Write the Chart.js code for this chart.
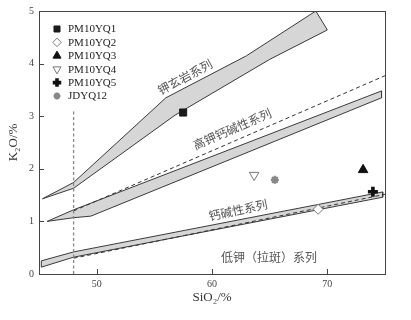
<!DOCTYPE html>
<html><head><meta charset="utf-8">
<script src="https://cdn.jsdelivr.net/npm/chart.js@4/dist/chart.umd.min.js"></script>
<style>html,body{margin:0;padding:0;background:#fff}</style>
</head><body>
<canvas id="c" width="411" height="320" style="width:411px;height:320px;display:block"></canvas>
<script>
// ---- data ----
const xTicks = [50, 60, 70];
const yTicks = [0, 1, 2, 3, 4, 5];
const sampleNames = ['PM10YQ1', 'PM10YQ2', 'PM10YQ3', 'PM10YQ4', 'PM10YQ5', 'JDYQ12'];
const sampleSiO2 = [57.5, 69.2, 73.1, 63.65, 73.95, 65.45];
const sampleK2O = [3.07, 1.23, 1.98, 1.88, 1.565, 1.79];

// boundary bands (closed outlines: upper edge left->right, then lower edge right->left)
const shoBandSiO2 = [45.3, 48, 56, 63, 69, 70, 65, 56.8, 48, 45.3];
const shoBandK2O  = [1.43, 1.74, 3.35, 4.15, 5.0, 4.64, 4.08, 3.02, 1.63, 1.43];
const hkBandSiO2  = [45.7, 48, 74.7, 74.7, 49.5, 48, 45.7];
const hkBandK2O   = [1.0, 1.22, 3.48, 3.35, 1.10, 1.07, 1.0];
const lkBandSiO2  = [45.2, 48, 74.8, 74.8, 48, 45.2, 45.2];
const lkBandK2O   = [0.25, 0.42, 1.56, 1.46, 0.32, 0.13, 0.25];

// dashed reference lines
const hkDashSiO2 = [48, 75];
const hkDashK2O  = [1.2, 3.77];
const lkDashSiO2 = [48, 75];
const lkDashK2O  = [0.3, 1.515];
const vDashSiO2  = [48, 48];
const vDashK2O   = [0, 3.1];

const seriesNames = ['钾玄岩系列', '高钾钙碱性系列', '钙碱性系列', '低钾（拉斑）系列'];

// ---- layout / style (not data) ----
const seriesPlacement = [
  {x: 57.66, y: 3.745, a: -28.5},
  {x: 61.74, y: 2.757, a: -23.6},
  {x: 62.26, y: 1.217, a: -12},
  {x: 64.95, y: 0.323, a: 0}
];
const markerStyles = [
  {pointStyle: 'rect', radius: 5, bg: '#1a1a1a', border: '#1a1a1a', bw: 1, rot: 0},
  {pointStyle: 'rectRot', radius: 5, bg: '#ffffff', border: '#777', bw: 1, rot: 0},
  {pointStyle: 'triangle', radius: 5.5, bg: '#111', border: '#111', bw: 1, rot: 0},
  {pointStyle: 'triangle', radius: 5.5, bg: '#ffffff', border: '#777', bw: 1, rot: 180},
  {pointStyle: 'cross', radius: 5, bg: '#111', border: '#111', bw: 3.6, rot: 0},
  {pointStyle: 'star', radius: 4, bg: '#888', border: '#888', bw: 2.2, rot: 0}
];

const zip = (xs, ys) => xs.map((x, i) => ({x: x, y: ys[i]}));

const datasets = [];
sampleNames.forEach((n, i) => {
  const s = markerStyles[i];
  datasets.push({
    label: n, data: [{x: sampleSiO2[i], y: sampleK2O[i]}],
    pointStyle: s.pointStyle, pointRadius: s.radius, pointRotation: s.rot,
    backgroundColor: s.bg, borderColor: s.border, pointBorderWidth: s.bw,
    showLine: false, order: 0, isSample: true
  });
});
const bandStyle = {showLine: true, fill: 'shape', backgroundColor: '#d6d6d6', borderColor: '#3a3a3a',
  borderWidth: 1, pointRadius: 0, order: 2, tension: 0};
datasets.push(Object.assign({label: 'sho', data: zip(shoBandSiO2, shoBandK2O)}, bandStyle));
datasets.push(Object.assign({label: 'hk', data: zip(hkBandSiO2, hkBandK2O)}, bandStyle));
datasets.push(Object.assign({label: 'lk', data: zip(lkBandSiO2, lkBandK2O)}, bandStyle));
const dashStyle = {showLine: true, fill: false, borderColor: '#333', borderWidth: 1, borderDash: [4, 3], pointRadius: 0, order: 1};
datasets.push(Object.assign({label: 'hkd', data: zip(hkDashSiO2, hkDashK2O)}, dashStyle));
datasets.push(Object.assign({label: 'lkd', data: zip(lkDashSiO2, lkDashK2O)}, dashStyle));
datasets.push(Object.assign({label: 'vd', data: zip(vDashSiO2, vDashK2O)}, dashStyle, {borderColor: '#888', borderWidth: 1.3, borderDash: [3, 2.5]}));

const frameTicks = {
  id: 'frameTicks',
  afterDatasetsDraw(chart) {
    const {ctx, chartArea: a, scales} = chart;
    ctx.save();
    ctx.strokeStyle = '#444';
    ctx.lineWidth = 1;
    ctx.strokeRect(Math.round(a.left) + 0.5, Math.round(a.top) + 0.5, Math.round(a.right - a.left), Math.round(a.bottom - a.top));
    ctx.beginPath();
    xTicks.forEach(v => {
      const px = Math.round(scales.x.getPixelForValue(v)) + 0.5;
      ctx.moveTo(px, a.bottom); ctx.lineTo(px, a.bottom - 5);
    });
    yTicks.forEach(v => {
      const py = Math.round(scales.y.getPixelForValue(v)) + 0.5;
      ctx.moveTo(a.left, py); ctx.lineTo(a.left + 5, py);
    });
    ctx.stroke();
    // series names
    ctx.fillStyle = '#555';
    ctx.font = '12px "Noto Sans CJK SC", sans-serif';
    ctx.textAlign = 'center';
    ctx.textBaseline = 'middle';
    seriesNames.forEach((t, i) => {
      const p = seriesPlacement[i];
      ctx.save();
      ctx.translate(scales.x.getPixelForValue(p.x), scales.y.getPixelForValue(p.y));
      ctx.rotate(p.a * Math.PI / 180);
      ctx.fillText(t, 0, 0);
      ctx.restore();
    });
    ctx.restore();
  },
  afterDraw(chart) {
    const {ctx, chartArea: a} = chart;
    ctx.save();
    ctx.font = '11px "Liberation Serif", serif';
    ctx.textBaseline = 'middle';
    ctx.textAlign = 'left';
    sampleNames.forEach((n, i) => {
      const s = markerStyles[i];
      const y = a.top + 18 + i * 13.4;
      const x = a.left + 18;
      ctx.fillStyle = s.bg; ctx.strokeStyle = s.border; ctx.lineWidth = s.bw;
      Chart.helpers.drawPoint(ctx, {pointStyle: s.pointStyle, radius: s.radius * 0.85, rotation: s.rot, borderWidth: s.bw}, x, y);
      ctx.fillStyle = '#222';
      ctx.fillText(n, a.left + 29, y + 0.5);
    });
    ctx.restore();
  }
};

new Chart(document.getElementById('c'), {
  type: 'scatter',
  data: {datasets: datasets},
  options: {
    responsive: false, animation: false, devicePixelRatio: 1,
    layout: {padding: {top: 11, right: 26, left: 0, bottom: 0}},
    plugins: {legend: {display: false}, tooltip: {enabled: false}},
    scales: {
      x: {
        type: 'linear', min: 45, max: 75,
        afterBuildTicks: s => { s.ticks = xTicks.map(v => ({value: v})); },
        afterFit: s => { s.height = 46; },
        grid: {display: false, drawTicks: false},
        border: {display: false},
        ticks: {padding: 4, color: '#444', font: {family: 'Liberation Serif', size: 10}},
        title: {display: true, text: 'SiO₂/%', color: '#333', font: {family: 'Liberation Serif', size: 13}, padding: {top: 0, bottom: 14.8}}
      },
      y: {
        type: 'linear', min: 0, max: 5,
        afterBuildTicks: s => { s.ticks = yTicks.map(v => ({value: v})); },
        afterFit: s => { s.width = 39; },
        grid: {display: false, drawTicks: false},
        border: {display: false},
        ticks: {padding: 5, color: '#444', font: {family: 'Liberation Serif', size: 10}},
        title: {display: true, text: 'K₂O/%', color: '#333', font: {family: 'Liberation Serif', size: 13}, padding: {top: 6.2, bottom: 0}}
      }
    }
  },
  plugins: [frameTicks]
});
</script>
</body></html>
